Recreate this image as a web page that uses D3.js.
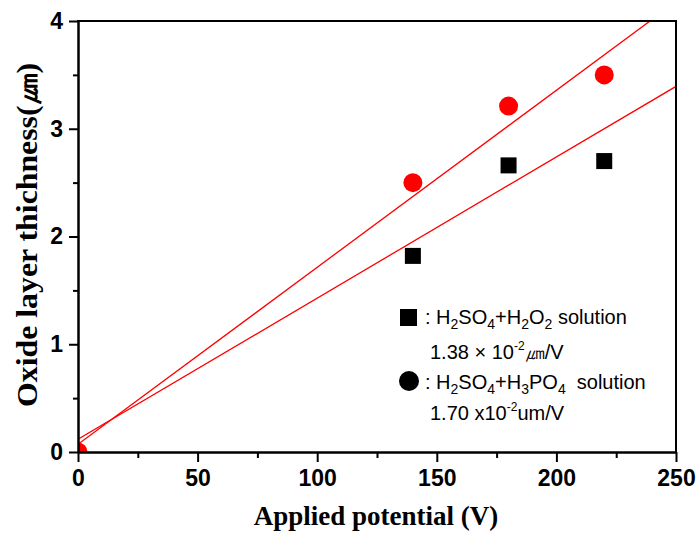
<!DOCTYPE html>
<html>
<head>
<meta charset="utf-8">
<script src="https://cdn.jsdelivr.net/npm/d3@7"></script>
<style>
  body { margin: 0; background: #fff; }
  .tick text { font-family: "Liberation Sans", Arial, sans-serif; font-weight: bold; font-size: 23px; fill: #000; }
  .legend text { font-family: "Liberation Sans", Arial, sans-serif; font-size: 20px; fill: #000; }
</style>
</head>
<body>
<div id="chart"></div>
<script>
// data
const potential = [140, 180, 220];
const h2o2Thick = [1.82, 2.66, 2.70];        // H2SO4+H2O2 (squares)
const potentialP = [0, 140, 180, 220];
const h3po4Thick = [0, 2.50, 3.21, 3.50];    // H2SO4+H3PO4 (circles)

// linear fits as drawn (y = a + b*x)
const fitIntercepts = [0.118, 0.071];
const fitSlopes = [0.0131, 0.01643];

const xTicks = [0, 50, 100, 150, 200, 250];
const yTicks = [0, 1, 2, 3, 4];

const w = 700, h = 534;
const margin = {top: 21, right: 24, bottom: 82, left: 78};

const svg = d3.select("#chart").append("svg")
    .attr("width", w)
    .attr("height", h);

const x = d3.scaleLinear().domain([0, 250]).range([margin.left, w - margin.right]);
const y = d3.scaleLinear().domain([0, 4]).range([h - margin.bottom, margin.top]);

svg.append("clipPath").attr("id", "plotClip")
  .append("rect")
    .attr("x", x(0)).attr("y", y(4))
    .attr("width", x(250) - x(0)).attr("height", y(0) - y(4));

// fit lines
const plot = svg.append("g").attr("clip-path", "url(#plotClip)");
fitSlopes.forEach((b, i) => {
    const a = fitIntercepts[i];
    plot.append("line")
        .attr("x1", x(0)).attr("y1", y(a))
        .attr("x2", x(250)).attr("y2", y(a + b * 250))
        .attr("stroke", "#ff0000")
        .attr("stroke-width", 1.3);
});

// squares
const sq = 16;
plot.selectAll(".sq")
    .data(potential.map((v, i) => [v, h2o2Thick[i]]))
    .enter().append("rect")
    .attr("x", d => x(d[0]) - sq / 2)
    .attr("y", d => y(d[1]) - sq / 2)
    .attr("width", sq).attr("height", sq)
    .attr("fill", "#000");

// circles
plot.selectAll(".ci")
    .data(potentialP.map((v, i) => [v, h3po4Thick[i]]))
    .enter().append("circle")
    .attr("cx", d => x(d[0]))
    .attr("cy", d => y(d[1]))
    .attr("r", 9.5)
    .attr("fill", "#ff0000");

// axes
svg.append("g")
    .attr("transform", "translate(0," + y(0) + ")")
    .call(d3.axisBottom(x).tickValues(xTicks).tickFormat(d3.format("d")).tickSize(10).tickPadding(8).tickSizeOuter(0));
svg.append("g")
    .attr("transform", "translate(0," + y(0) + ")")
    .call(d3.axisBottom(x).tickValues([25, 75, 125, 175, 225]).tickSize(6).tickFormat("").tickSizeOuter(0));

svg.append("g")
    .attr("transform", "translate(" + x(0) + ",0)")
    .call(d3.axisLeft(y).tickValues(yTicks).tickFormat(d3.format("d")).tickSize(9).tickPadding(6).tickSizeOuter(0));
svg.append("g")
    .attr("transform", "translate(" + x(0) + ",0)")
    .call(d3.axisLeft(y).tickValues([0.5, 1.5, 2.5, 3.5]).tickSize(5).tickFormat("").tickSizeOuter(0));

svg.selectAll(".domain").attr("stroke-width", 2);
svg.selectAll(".tick line").attr("stroke-width", 2);

// top and right frame
svg.append("line")
    .attr("x1", x(0) - 1).attr("x2", x(250) + 1)
    .attr("y1", y(4)).attr("y2", y(4))
    .attr("stroke", "#000").attr("stroke-width", 2);
svg.append("line")
    .attr("x1", x(250)).attr("x2", x(250))
    .attr("y1", y(4)).attr("y2", y(0))
    .attr("stroke", "#000").attr("stroke-width", 2);

// axis titles
svg.append("text")
    .attr("x", 376).attr("y", 525)
    .attr("text-anchor", "middle")
    .style("font-family", "'Liberation Serif', 'Times New Roman', serif")
    .style("font-weight", "bold")
    .style("font-size", "27px")
    .text("Applied potential (V)");

svg.append("text")
    .attr("transform", "translate(37,235) rotate(-90)")
    .attr("text-anchor", "middle")
    .attr("textLength", 344)
    .attr("lengthAdjust", "spacingAndGlyphs")
    .style("font-family", "'Liberation Serif', 'Times New Roman', serif")
    .style("font-weight", "bold")
    .style("font-size", "29px")
    .text("Oxide layer thichness(\u339B)");

// legend
const legend = svg.append("g").attr("class", "legend");
legend.append("rect")
    .attr("x", 400).attr("y", 309).attr("width", 17).attr("height", 17)
    .attr("fill", "#000");
legend.append("circle")
    .attr("cx", 409).attr("cy", 381).attr("r", 10)
    .attr("fill", "#000");

const chem = (g, xx, yy, parts) => {
    const t = g.append("text").attr("x", xx).attr("y", yy);
    parts.forEach(p => {
        const s = t.append("tspan").text(p[0]);
        if (p[1] === "sub") s.style("font-size", "14px").attr("dy", 5);
        else if (p[1] === "sup") s.style("font-size", "12px").attr("dy", -9);
        else if (p[1] === "back") s.attr("dy", p[2]);
    });
    return t;
};

chem(legend, 425, 324, [[": H"], ["2", "sub"], ["SO", "back", -5], ["4", "sub"], ["+H", "back", -5], ["2", "sub"], ["O", "back", -5], ["2", "sub"], [" solution", "back", -5]]);
chem(legend, 430, 359, [["1.38 \u00D7 10"], ["-2", "sup"], ["\u339B/V", "back", 9]]);
chem(legend, 425, 389, [[": H"], ["2", "sub"], ["SO", "back", -5], ["4", "sub"], ["+H", "back", -5], ["3", "sub"], ["PO", "back", -5], ["4", "sub"], ["\u00A0 solution", "back", -5]]);
chem(legend, 430, 420, [["1.70 x10"], ["-2", "sup"], ["um/V", "back", 9]]);
</script>
</body>
</html>
